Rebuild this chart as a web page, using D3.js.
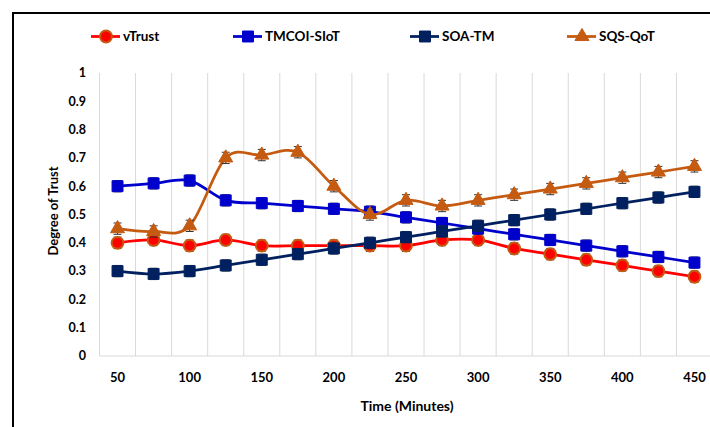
<!DOCTYPE html>
<html><head><meta charset="utf-8">
<script src="https://cdn.jsdelivr.net/npm/d3@7"></script>
<style>
html,body{margin:0;padding:0;background:#fff;}
svg{display:block;font-family:Lato,"Open Sans",sans-serif;font-weight:bold;}
</style></head>
<body>
<svg id="chart" width="710" height="427"></svg>
<script>
const categories = [50,75,100,125,150,175,200,225,250,275,300,325,350,375,400,425,450];
const xTickLabels = [50,100,150,200,250,300,350,400,450];
const yTicks = [0,0.1,0.2,0.3,0.4,0.5,0.6,0.7,0.8,0.9,1];
const vTrust   = [0.40,0.41,0.39,0.41,0.39,0.39,0.39,0.39,0.39,0.41,0.41,0.38,0.36,0.34,0.32,0.30,0.28];
const tmcoi    = [0.60,0.61,0.62,0.55,0.54,0.53,0.52,0.51,0.49,0.47,0.45,0.43,0.41,0.39,0.37,0.35,0.33];
const soaTm    = [0.30,0.29,0.30,0.32,0.34,0.36,0.38,0.40,0.42,0.44,0.46,0.48,0.50,0.52,0.54,0.56,0.58];
const sqsQot   = [0.45,0.44,0.46,0.70,0.71,0.72,0.60,0.50,0.55,0.53,0.55,0.57,0.59,0.61,0.63,0.65,0.67];
const errorMargin = 0.02;
const seriesNames = ["vTrust","TMCOI-SIoT","SOA-TM","SQS-QoT"];

(function(){
const series = [
  {name: seriesNames[0], values: vTrust, color:"#FF0000", stroke:"#C55A11", shape:d3.symbolCircle, size:110},
  {name: seriesNames[1], values: tmcoi,  color:"#0000CC", stroke:"#0000CC", shape:d3.symbolSquare, size:120},
  {name: seriesNames[2], values: soaTm,  color:"#002060", stroke:"#002060", shape:d3.symbolSquare, size:120},
  {name: seriesNames[3], values: sqsQot, color:"#C55A11", stroke:"#C55A11", shape:d3.symbolTriangle, size:85}
];

const svg = d3.select("#chart");
svg.append("rect").attr("x",13).attr("y",13).attr("width",720).attr("height",440)
  .attr("fill","none").attr("stroke","#000").attr("stroke-width",2);

const pLeft = 99.5, pRight = 712.5, pTop = 73, pBottom = 356;
const x = d3.scaleBand().domain(categories).range([pLeft,pRight]).padding(0);
const y = d3.scaleLinear().domain([0,1]).range([pBottom,pTop]);
const cx = d => x(d) + x.bandwidth()/2;

svg.append("g").selectAll("line").data(categories.slice(1)).join("line")
  .attr("x1", d=>x(d)).attr("x2", d=>x(d)).attr("y1", pTop).attr("y2", pBottom)
  .attr("stroke","#D9D9D9").attr("stroke-width",1);
svg.append("line").attr("x1",pLeft).attr("x2",pLeft).attr("y1",pTop).attr("y2",pBottom).attr("stroke","#D9D9D9");
svg.append("line").attr("x1",pLeft).attr("x2",pRight).attr("y1",pBottom).attr("y2",pBottom).attr("stroke","#D9D9D9");

svg.append("g").selectAll("text").data(yTicks).join("text")
  .attr("x",86).attr("y",d=>y(d)).attr("dy","0.35em").attr("text-anchor","end")
  .attr("font-size",12.5).attr("fill","#000").text(d=>String(+d.toFixed(1)));
svg.append("g").selectAll("text").data(xTickLabels).join("text")
  .attr("x",d=>cx(d)).attr("y",377).attr("dy","0.35em").attr("text-anchor","middle")
  .attr("font-size",13).attr("fill","#000").text(d=>d);

svg.append("text").attr("x",407).attr("y",406).attr("dy","0.35em").attr("text-anchor","middle")
  .attr("font-size",14).text("Time (Minutes)");
svg.append("text").attr("transform","translate(53,211) rotate(-90)").attr("dy","0.35em")
  .attr("text-anchor","middle").attr("font-size",13).text("Degree of Trust");

const line = d3.line().x((d,i)=>cx(categories[i])).y(d=>y(d)).curve(d3.curveCardinal.tension(0));

series.forEach(s=>{
  const g = svg.append("g");
  g.append("path").attr("d", line(s.values)).attr("fill","none")
    .attr("stroke", s.color).attr("stroke-width",2.75);
  const eb = g.append("g").attr("stroke","#333").attr("stroke-width",1);
  s.values.forEach((v,i)=>{
    const px = cx(categories[i]);
    eb.append("line").attr("x1",px).attr("x2",px).attr("y1",y(v+errorMargin)).attr("y2",y(v-errorMargin));
    eb.append("line").attr("x1",px-4).attr("x2",px+4).attr("y1",y(v+errorMargin)).attr("y2",y(v+errorMargin));
    eb.append("line").attr("x1",px-4).attr("x2",px+4).attr("y1",y(v-errorMargin)).attr("y2",y(v-errorMargin));
  });
  g.append("g").selectAll("path").data(s.values).join("path")
    .attr("transform",(d,i)=>`translate(${cx(categories[i])},${y(d)})`)
    .attr("d", d3.symbol().type(s.shape).size(s.size))
    .attr("fill", s.color).attr("stroke", s.stroke).attr("stroke-width", s.shape===d3.symbolCircle?2:1);
});

const legendX = [91, 233, 410, 567];
const lg = svg.append("g");
series.forEach((s,i)=>{
  const lx = legendX[i], ly = 36.5;
  lg.append("line").attr("x1",lx).attr("x2",lx+29).attr("y1",ly).attr("y2",ly)
    .attr("stroke",s.color).attr("stroke-width",2.75);
  lg.append("path").attr("transform",`translate(${lx+15},${ly})`)
    .attr("d", d3.symbol().type(s.shape).size(s.size))
    .attr("fill",s.color).attr("stroke",s.stroke).attr("stroke-width", s.shape===d3.symbolCircle?2:1);
  lg.append("text").attr("x",lx+32).attr("y",ly).attr("dy","0.35em")
    .attr("font-size",13.5).attr("fill","#000").text(s.name);
});
})();
</script>
</body></html>
